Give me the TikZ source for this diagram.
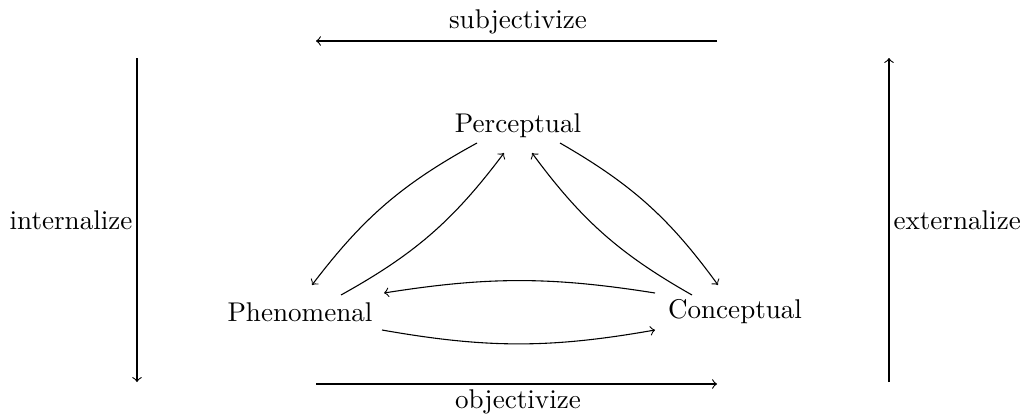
\documentclass[tikz,border=0pt]{standalone}
\usetikzlibrary{calc}
\begin{document}
\begin{tikzpicture}[x=0.369pt,y=-0.369pt, arr/.style={->}, lbl/.style={inner sep=0pt}]
\useasboundingbox (0,0) rectangle (1023,417);
\node (P) at (518,126) {Perceptual};
\node (Ph) at (300,312) {Phenomenal};
\node (C) at (735,312) {Conceptual};
\node[lbl] (sub) at (518,22) {subjectivize};
\node[lbl] (obj) at (518,402) {objectivize};
\coordinate (s1) at (717,41); \coordinate (s2) at (316,41);
\coordinate (o1) at (316,384); \coordinate (o2) at (717,384);
\coordinate (i1) at (137,58); \coordinate (i2) at (137,382);
\coordinate (e1) at (889,382); \coordinate (e2) at (889,58);
\node[lbl,anchor=east] (int) at (133,220) {internalize};
\node[lbl,anchor=west] (ext) at (893,220) {externalize};
\draw[arr] (s1) -- (s2);
\draw[arr] (o1) -- (o2);
\draw[arr] (i1) -- (i2);
\draw[arr] (e1) -- (e2);
\draw[arr] ($(P)+(-41,17)$) to[bend right=12] ($(Ph)+(12,-27)$);
\draw[arr] ($(Ph)+(41,-17)$) to[bend right=12] ($(P)+(-14,27)$);
\draw[arr] ($(C)+(-43,-17)$) to[bend left=12] ($(P)+(14,27)$);
\draw[arr] ($(P)+(42,17)$) to[bend left=12] ($(C)+(-17,-27)$);
\draw[arr] ($(C)+(-80,-19)$) to[bend right=9] ($(Ph)+(84,-19)$);
\draw[arr] ($(Ph)+(82,18)$) to[bend right=10] ($(C)+(-80,18)$);
\end{tikzpicture}
\end{document}
